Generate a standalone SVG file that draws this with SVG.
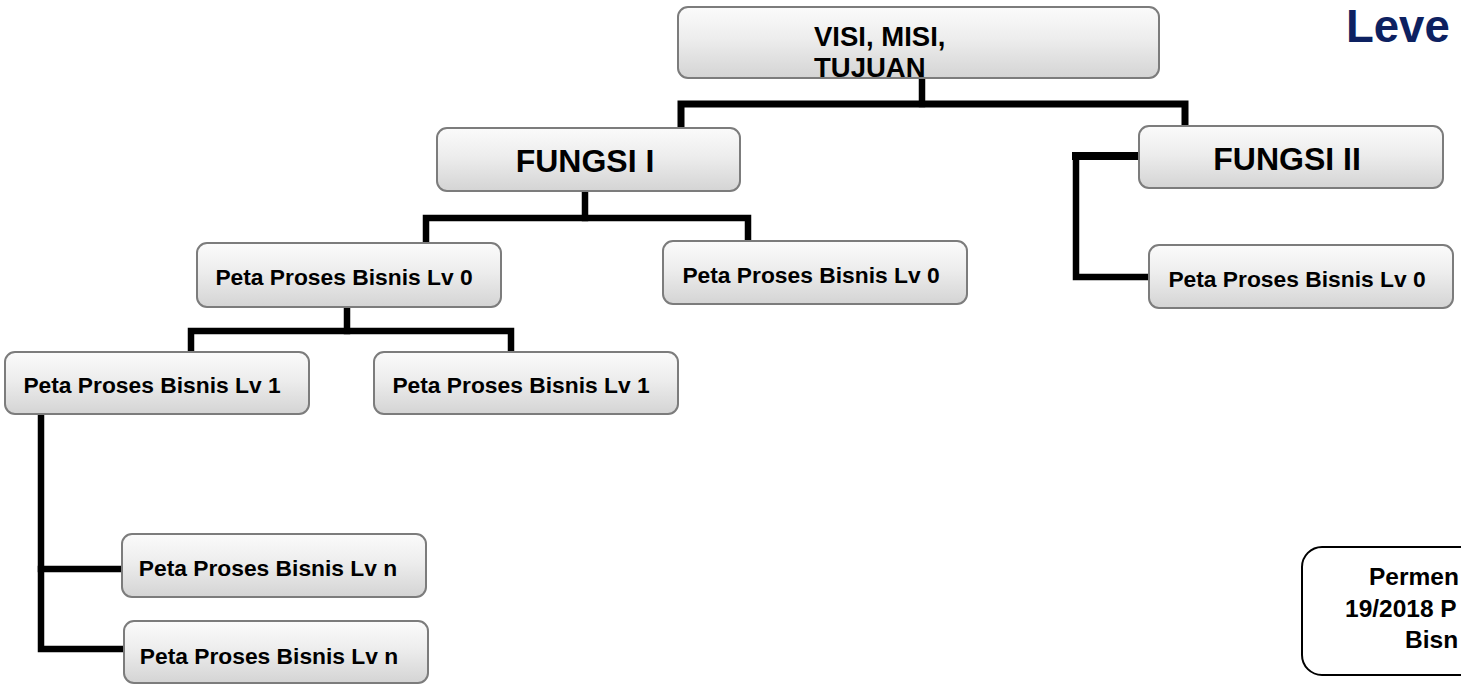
<svg xmlns="http://www.w3.org/2000/svg" width="1461" height="685" viewBox="0 0 1461 685">
  <defs>
    <linearGradient id="boxFill" x1="0" y1="0" x2="0" y2="1">
      <stop offset="0" stop-color="#fbfbfb"/>
      <stop offset="0.45" stop-color="#ededed"/>
      <stop offset="1" stop-color="#d4d4d4"/>
    </linearGradient>
    <style>
      .box { fill: url(#boxFill); stroke: #7c7c7c; stroke-width: 2; }
      .lbl { font-family: "Liberation Sans", Arial, sans-serif; font-weight: bold; fill: #000; }
      .big { font-size: 32px; text-anchor: middle; }
      .top { font-size: 27.5px; }
      .map { font-size: 22.8px; text-anchor: middle; }
      .note { font-size: 24.5px; }
      .wire { fill: none; stroke: #000; stroke-width: 6.5; stroke-linecap: square; stroke-linejoin: miter; }
    </style>
  </defs>

  <rect width="1461" height="685" fill="#ffffff"/>

  <!-- heading at the top right -->
  <text x="1346" y="41.5" font-family="Liberation Sans, Arial, sans-serif" font-weight="bold" font-size="45.5" fill="#0d2161">Leve</text>

  <!-- connectors -->
  <g id="connectors" class="wire">
    <polyline points="922,79 922,104"/>
    <polyline points="681,124 681,104 1185,104 1185,123" stroke-width="7"/>
    <polyline points="585,192 585,218"/>
    <polyline points="426,240 426,218 748,218 748,238"/>
    <polyline points="1139,156 1076,156 1076,277 1147,277"/>
    <polyline points="1139,156 1076,156" stroke-width="8"/>
    <polyline points="347,309 347,331"/>
    <polyline points="191,349 191,331 511,331 511,349"/>
    <polyline points="41,416 41,649 122,649"/>
    <polyline points="41,569 119,569"/>
  </g>

  <!-- root -->
  <g id="node-visi">
    <rect class="box" x="678" y="7" width="481" height="71" rx="10"/>
    <text class="lbl top" x="814" y="46">VISI, MISI,</text>
    <text class="lbl top" x="814" y="77">TUJUAN</text>
  </g>

  <g id="node-fungsi1">
    <rect class="box" x="437" y="128" width="303" height="63" rx="10"/>
    <text class="lbl big" x="585" y="172">FUNGSI I</text>
  </g>

  <g id="node-fungsi2">
    <rect class="box" x="1139" y="126" width="304" height="62" rx="10"/>
    <text class="lbl big" x="1287" y="170">FUNGSI II</text>
  </g>

  <g id="node-lv0-a">
    <rect class="box" x="197" y="243" width="304" height="64" rx="10"/>
    <text class="lbl map" x="344" y="285">Peta Proses Bisnis Lv 0</text>
  </g>

  <g id="node-lv0-b">
    <rect class="box" x="663" y="241" width="304" height="63" rx="10"/>
    <text class="lbl map" x="811" y="283">Peta Proses Bisnis Lv 0</text>
  </g>

  <g id="node-lv0-c">
    <rect class="box" x="1149" y="245" width="304" height="63" rx="10"/>
    <text class="lbl map" x="1297" y="287">Peta Proses Bisnis Lv 0</text>
  </g>

  <g id="node-lv1-a">
    <rect class="box" x="5" y="352" width="304" height="62" rx="10"/>
    <text class="lbl map" x="152" y="393">Peta Proses Bisnis Lv 1</text>
  </g>

  <g id="node-lv1-b">
    <rect class="box" x="374" y="352" width="304" height="62" rx="10"/>
    <text class="lbl map" x="521" y="393">Peta Proses Bisnis Lv 1</text>
  </g>

  <g id="node-lvn-a">
    <rect class="box" x="122" y="534" width="304" height="63" rx="10"/>
    <text class="lbl map" x="268" y="576">Peta Proses Bisnis Lv n</text>
  </g>

  <g id="node-lvn-b">
    <rect class="box" x="124" y="621" width="304" height="62" rx="10"/>
    <text class="lbl map" x="269" y="664">Peta Proses Bisnis Lv n</text>
  </g>

  <!-- note box, running past the right edge -->
  <g id="note">
    <rect x="1302" y="547" width="200" height="128" rx="20" fill="#ffffff" stroke="#000" stroke-width="2"/>
    <text class="lbl note" x="1369" y="585">Permen</text>
    <text class="lbl note" x="1345" y="617">19/2018 P</text>
    <text class="lbl note" x="1405" y="648">Bisn</text>
  </g>
</svg>
